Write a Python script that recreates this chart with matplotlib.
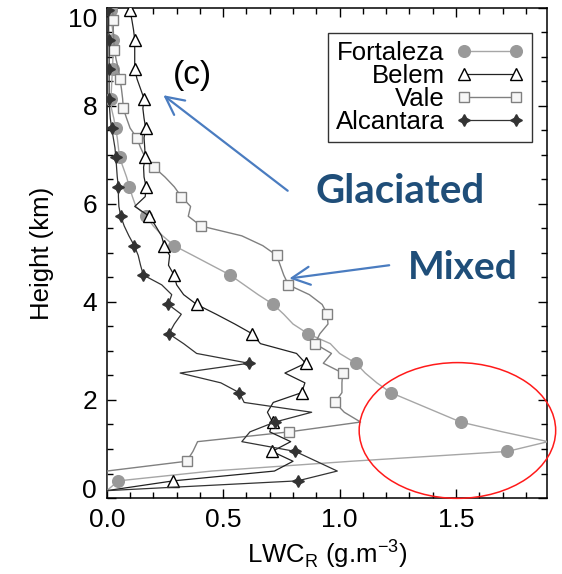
import matplotlib
matplotlib.use("Agg")
import matplotlib.pyplot as plt
from matplotlib.patches import Ellipse
from matplotlib.ticker import MultipleLocator, FormatStrFormatter

plt.rcParams['font.family'] = ['Liberation Sans', 'DejaVu Sans']

# Profile heights (km)
height_km = [0.15, 0.35, 0.55, 0.75, 0.95, 1.15, 1.35, 1.55, 1.75, 1.95,
             2.15, 2.35, 2.55, 2.75, 2.95, 3.15, 3.35, 3.55, 3.75, 3.95,
             4.15, 4.35, 4.55, 4.75, 4.95, 5.15, 5.35, 5.55, 5.75, 5.95,
             6.15, 6.35, 6.55, 6.75, 6.95, 7.15, 7.35, 7.55, 7.75, 7.95,
             8.15, 8.35, 8.55, 8.75, 8.95, 9.15, 9.35, 9.55, 9.75, 9.95]

# Rain liquid water content (g m-3) per site
lwc_fortaleza = [0.0, 0.05, 0.45, 1.05, 1.72, 1.895, 1.70, 1.52, 1.42, 1.32,
                 1.22, 1.16, 1.11, 1.07, 1.00, 0.96, 0.865, 0.80, 0.76, 0.715,
                 0.65, 0.59, 0.53, 0.45, 0.37, 0.289, 0.24, 0.20, 0.17, 0.125,
                 0.11, 0.097, 0.085, 0.07, 0.055, 0.05, 0.045, 0.038, 0.03, 0.02,
                 0.018, 0.02, 0.022, 0.025, 0.026, 0.028, 0.028, 0.025, 0.02, 0.02]

lwc_belem = [0.0, 0.286, 0.72, 0.80, 0.71, 0.79, 0.70, 0.712, 0.69, 0.715,
             0.837, 0.851, 0.765, 0.854, 0.815, 0.66, 0.625, 0.55, 0.47, 0.386,
             0.33, 0.30, 0.289, 0.265, 0.27, 0.247, 0.235, 0.21, 0.183, 0.12,
             0.165, 0.169, 0.16, 0.158, 0.165, 0.163, 0.16, 0.167, 0.16, 0.155,
             0.16, 0.145, 0.13, 0.12, 0.12, 0.12, 0.12, 0.115, 0.108, 0.10]

lwc_vale = [0.0, 0.0, 0.0, 0.343, 0.37, 0.39, 0.784, 1.09, 1.02, 0.98,
            1.01, 1.01, 1.013, 0.93, 0.965, 0.894, 0.915, 0.95, 0.947, 0.925,
            0.87, 0.78, 0.76, 0.745, 0.73, 0.67, 0.58, 0.405, 0.35, 0.36,
            0.32, 0.29, 0.25, 0.203, 0.165, 0.145, 0.129, 0.10, 0.085, 0.071,
            0.068, 0.063, 0.057, 0.05, 0.04, 0.033, 0.03, 0.028, 0.028, 0.025]

lwc_alcantara = [0.0, 0.82, 0.99, 0.90, 0.81, 0.58, 0.615, 0.722, 0.88, 0.59,
                 0.569, 0.49, 0.315, 0.61, 0.386, 0.33, 0.267, 0.29, 0.32, 0.264,
                 0.279, 0.236, 0.157, 0.145, 0.135, 0.118, 0.095, 0.075, 0.06, 0.052,
                 0.05, 0.05, 0.045, 0.042, 0.039, 0.035, 0.028, 0.021, 0.015, 0.012,
                 0.01, 0.01, 0.01, 0.01, 0.01, 0.01, 0.01, 0.008, 0.008, 0.007]

site_names = ["Fortaleza", "Belem", "Vale", "Alcantara"]
x_ticks = [0.0, 0.5, 1.0, 1.5]
y_ticks = [0, 2, 4, 6, 8, 10]

fig = plt.figure(figsize=(5.62, 5.74), dpi=100)
ax = fig.add_axes([0.19, 0.1324, 0.783, 0.8537])

ax.plot(lwc_fortaleza, height_km, color='#a6a6a6', lw=1.0, marker='o', ms=8.4,
        mfc='#999999', mec='#999999', markevery=(1, 3), label=site_names[0], zorder=3)
ax.plot(lwc_belem, height_km, color='#222222', lw=0.9, marker='^', ms=8.5,
        mfc='white', mec='black', mew=1.0, markevery=(1, 3), label=site_names[1], zorder=4)
ax.plot(lwc_vale, height_km, color='#808080', lw=1.0, marker='s', ms=7.5,
        mfc='#f7f7f7', mec='#808080', mew=1.0, markevery=(3, 3), label=site_names[2], zorder=3)
ax.plot(lwc_alcantara, height_km, color='#333333', lw=0.9, marker=(4, 1, 0), ms=8.5,
        mfc='#333333', mec='#333333', markevery=(1, 3), label=site_names[3], zorder=4)

ax.set_xlim(0, 1.89)
ax.set_ylim(0, 10)
ax.set_xticks(x_ticks)
ax.set_yticks(y_ticks)
ax.xaxis.set_minor_locator(MultipleLocator(0.1))
ax.yaxis.set_minor_locator(MultipleLocator(0.5))
ax.xaxis.set_major_formatter(FormatStrFormatter('%.1f'))
ax.tick_params(which='both', direction='in', top=True, right=True, width=1.0,
               labelsize=19, pad=7)
ax.tick_params(which='major', length=6.5)
ax.tick_params(which='minor', length=4)
for sp in ax.spines.values():
    sp.set_linewidth(1.1)

# keep the end labels of the height axis inside the frame
ylabels = ax.get_yticklabels()
ylabels[0].set_va('baseline')
ylabels[-1].set_va('top')

ax.set_xlabel('LWC$_\\mathregular{R}$ (g.m$^\\mathregular{-3}$)', fontsize=18.5, labelpad=4)
ax.set_ylabel('Height (km)', fontsize=18.5, labelpad=10)

leg = ax.legend(loc='upper right', bbox_to_anchor=(0.966, 0.949), markerfirst=False,
                numpoints=2, fontsize=18.5, frameon=True, fancybox=False,
                edgecolor='black', handlelength=2.65, handletextpad=0.45,
                labelspacing=-0.03, borderpad=0.3, borderaxespad=0.0)
leg.get_frame().set_linewidth(1.0)

ax.text(0.366, 8.63, '(c)', fontsize=24, ha='center', va='center')

blue_text = '#1f4e79'
arrow_blue = '#4a7cc0'
ax.text(1.259, 6.25, 'Glaciated', fontsize=29, fontweight='bold', color=blue_text,
        family=['Lato', 'DejaVu Sans'], ha='center', va='center')
ax.text(1.53, 4.70, 'Mixed', fontsize=28, fontweight='bold', color=blue_text,
        family=['Lato', 'DejaVu Sans'], ha='center', va='center')

arrow_style = '->,head_length=1.3,head_width=0.65'
ax.annotate('', xy=(0.243, 8.22), xytext=(0.777, 6.27),
            arrowprops=dict(arrowstyle=arrow_style, mutation_scale=10,
                            color=arrow_blue, lw=1.6, shrinkA=0, shrinkB=0))
ax.annotate('', xy=(0.784, 4.48), xytext=(1.213, 4.75),
            arrowprops=dict(arrowstyle=arrow_style, mutation_scale=10,
                            color=arrow_blue, lw=1.6, shrinkA=0, shrinkB=0))

ax.add_patch(Ellipse((1.506, 1.378), 0.844, 2.77, fill=False, edgecolor='#ff1a1a',
                     lw=1.1, clip_on=False, zorder=5))

fig.savefig('out.png', dpi=100)
